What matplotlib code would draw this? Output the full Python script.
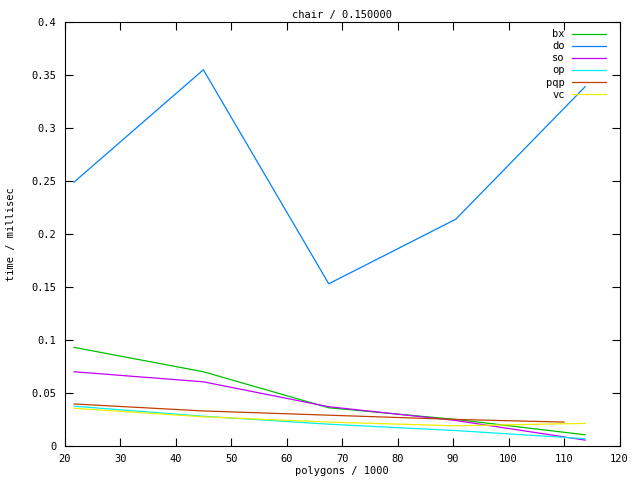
import numpy as np
import matplotlib
matplotlib.use("Agg")
import matplotlib.pyplot as plt
from matplotlib.ticker import FormatStrFormatter, MultipleLocator

# polygons / 1000
polygons = [21.7, 45.0, 67.6, 90.5, 113.8]
polygons_pqp = [21.7, 45.0, 67.6, 90.5, 110.0]

bx = [0.093, 0.070, 0.036, 0.025, 0.0105]
do = [0.249, 0.355, 0.153, 0.214, 0.339]
so = [0.070, 0.0605, 0.037, 0.024, 0.0055]
op = [0.0375, 0.028, 0.0205, 0.0145, 0.0068]
pqp = [0.0396, 0.033, 0.029, 0.025, 0.0225]
vc = [0.0355, 0.0275, 0.0225, 0.019, 0.0213]

series = [
    ("bx", polygons, bx, "#00c000"),
    ("do", polygons, do, "#0080ff"),
    ("so", polygons, so, "#c000ff"),
    ("op", polygons, op, "#00eeee"),
    ("pqp", polygons_pqp, pqp, "#c04000"),
    ("vc", polygons, vc, "#eeee00"),
]

plt.rcParams['font.family'] = ['DejaVu Sans Mono']
plt.rcParams['font.size'] = 7.5

fig = plt.figure(figsize=(6.4, 4.8), dpi=100)
ax = fig.add_axes([0.101, 0.071, 0.867, 0.883])

for name, xs, ys, color in series:
    ax.plot(xs, ys, color=color, lw=0.9, label=name)

ax.set_xlim(20, 120)
ax.set_ylim(0, 0.4)
ax.xaxis.set_major_locator(MultipleLocator(10))
ax.yaxis.set_major_locator(MultipleLocator(0.05))
ax.yaxis.set_major_formatter(FormatStrFormatter('%g'))
ax.tick_params(direction='in', length=6, width=0.8, top=True, right=True, pad=6)
for spine in ax.spines.values():
    spine.set_linewidth(0.8)

ax.set_title("chair / 0.150000", fontsize=7.5, pad=3)
ax.set_xlabel("polygons / 1000", labelpad=1)
ax.set_ylabel("time / millisec", labelpad=11)

leg = ax.legend(loc='upper right', bbox_to_anchor=(0.984, 0.993), frameon=False,
                markerfirst=False, handlelength=3.3, handletextpad=0.7,
                labelspacing=0.2, borderaxespad=0, borderpad=0.4, fontsize=7.5)
for t in leg.get_texts():
    t.set_ha('right')

fig.savefig("out.png", dpi=100)
plt.close(fig)
